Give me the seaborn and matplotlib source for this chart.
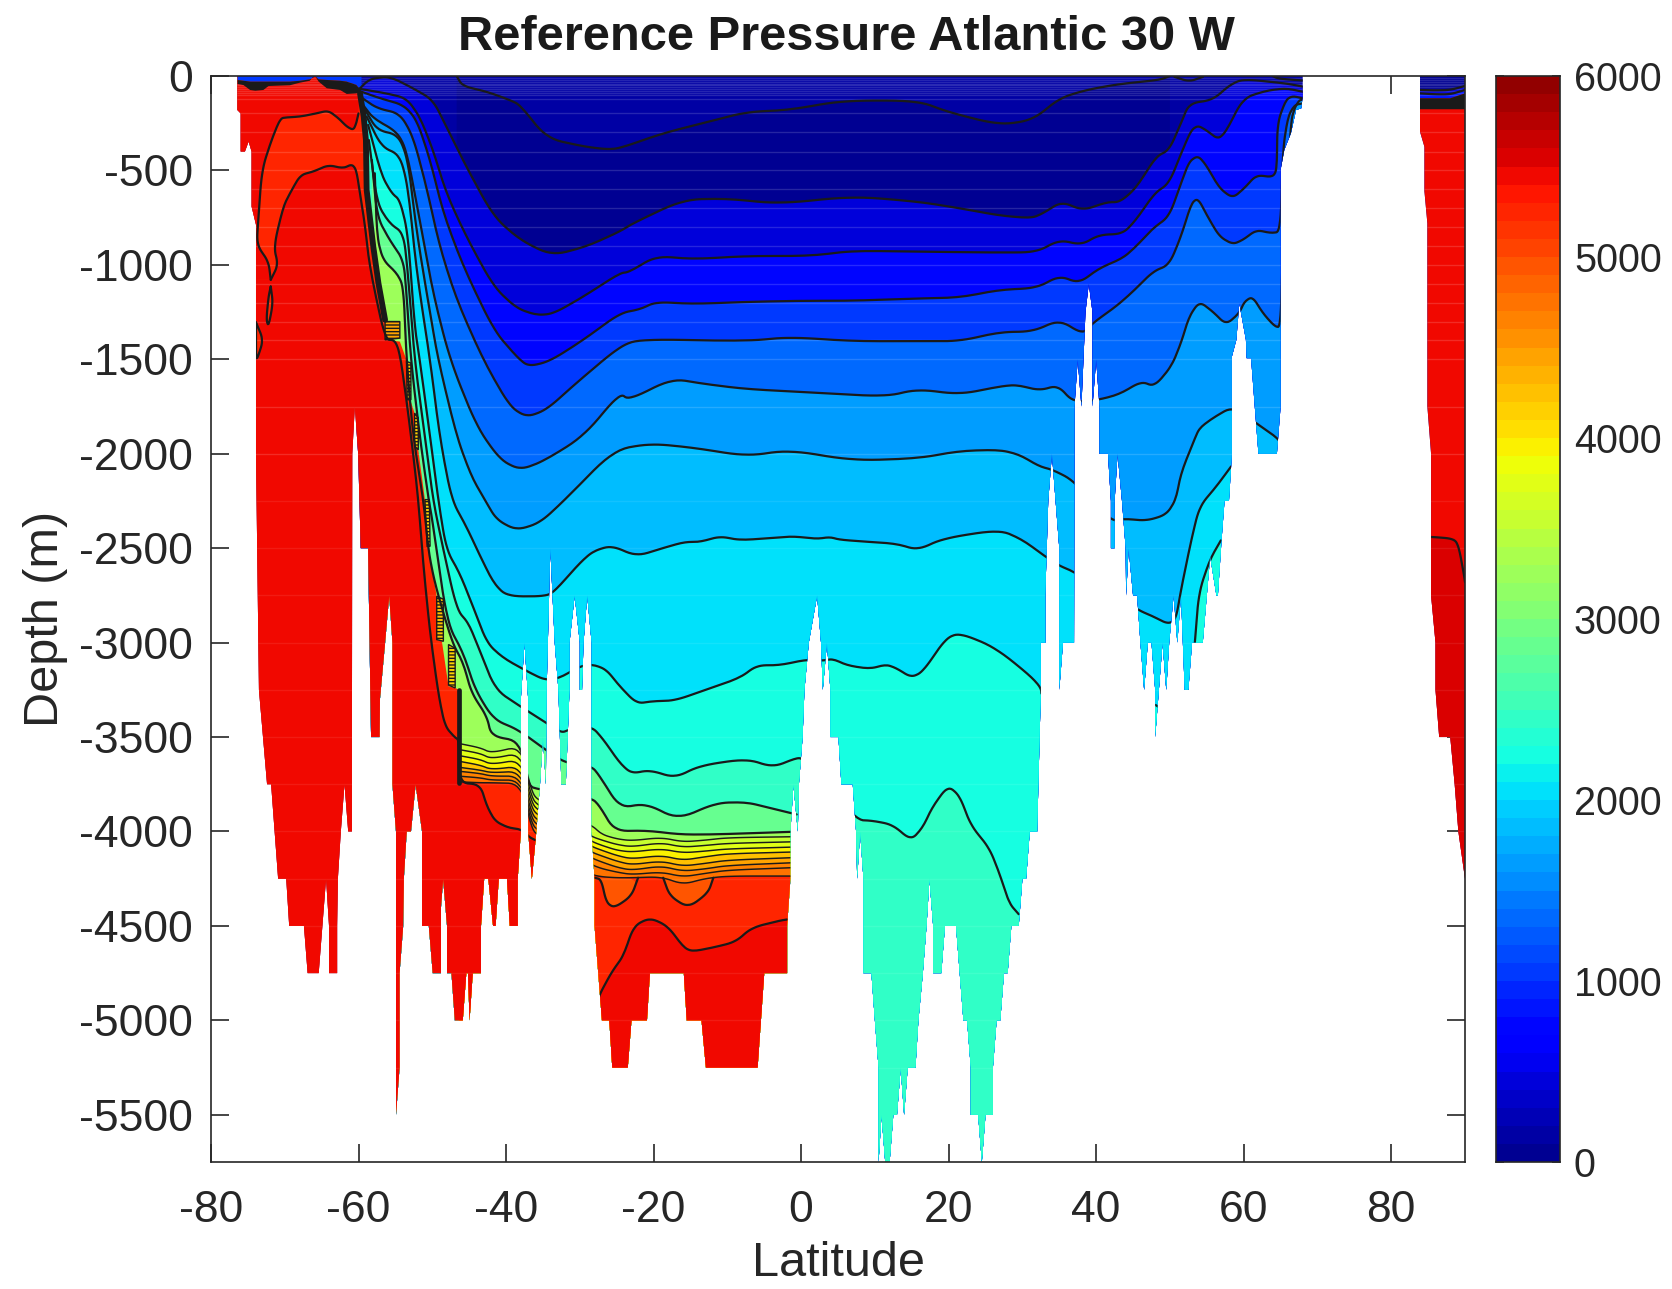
import numpy as np
import matplotlib
matplotlib.use("Agg")
import matplotlib.pyplot as plt
from matplotlib.colors import ListedColormap
from matplotlib.path import Path
from matplotlib.patches import PathPatch
import seaborn as sns

TITLE = "Reference Pressure Atlantic 30 W"
XLABEL = "Latitude"
YLABEL = "Depth (m)"
X_TICKS = [-80, -60, -40, -20, 0, 20, 40, 60, 80]
Y_TICKS = [0, -500, -1000, -1500, -2000, -2500, -3000, -3500, -4000, -4500, -5000, -5500]
CBAR_TICKS = [6000, 5000, 4000, 3000, 2000, 1000, 0]

# ocean outline (sea floor) : latitude, depth
FLOOR_LAT = [-76.43,-76.43,-75.98,-75.98,-75.4,-74.9,-74.5,-74.5,-73.9,-73.9,-73.5,-72.4,-71.85,-70.9,-69.8,-69.4,-67.4,-66.9,-65.4,-64.9,-64.4,-64,-64,-62.9,-62.9,-62.8,-62.4,-61.9,-61.4,-60.9,-60.9,-60.85,-60.5,-60.05,-59.7,-58.7,-58.6,-58.3,-57.15,-57.1,-56.4,-55.84,-55.4,-55.4,-54.92,-54.92,-54.44,-54.44,-53.95,-53.86,-53.47,-52.89,-52.26,-51.39,-51.39,-50.47,-49.94,-48.82,-48.82,-48.53,-48,-48,-47.4,-46.94,-45.87,-45.39,-45.15,-44.95,-44.52,-43.4,-43.4,-42.97,-42.4,-41.76,-41.42,-40.99,-39.87,-39.49,-38.42,-38.42,-38,-38,-37.5,-37,-37,-36.5,-35.9,-35.4,-35,-34.6,-34.5,-34,-33.4,-32.9,-32.5,-31.9,-31.4,-31.4,-30.7,-30,-30,-29.7,-29.5,-29,-28.4,-28.4,-28,-28,-27.5,-27,-26,-25.6,-23.5,-23,-20.9,-20.5,-15.9,-15.5,-13.5,-12.9,-5.9,-5,-1.9,-1.9,-1.45,-1.45,-1.04,-0.45,-0.3,0.2,0.45,1.04,2.17,2.7,2.94,3.5,3.97,3.97,5.06,5.46,7,7.45,7.6,8,8.45,8.45,9.53,10,10.5,10.5,10.9,11.4,12,12.5,13,13.5,13.96,14.45,15.5,15.9,16.5,17,17.4,17.9,17.9,19,19.5,21,21.5,22,22.5,23,23,24,24.5,25,26,26,26.5,27,27.5,28,28.5,29.5,30,30.5,31,32,32.5,32.5,33.1,33.1,33.5,34,34.5,35,35,35.5,37,37.06,37.5,38,38.55,39,39.5,39.5,40,40.45,40.45,41.6,42,42,42.5,42.5,42.9,43.5,44,44.06,44.4,45,45.55,46,46.5,47,47.5,48,48,48.5,49,49.5,49.9,50.5,51,51.5,52,52.5,53,54.45,55,55.45,56.3,56.5,57,57.4,58,58.4,58.4,59,59.4,60.3,60.4,61,61.5,62,64.5,65,65,65.5,66.4,67.1,67.8,68,68]
FLOOR_DEPTH = [0,180,198,400,400,347,400,691,788,2000,3250,3750,3750,4250,4250,4500,4500,4750,4750,4500,4250,4500,4750,4750,4500,4250,4000,3750,4000,4000,3750,2000,1750,2000,2500,2500,2750,3500,3500,3300,3000,2750,3000,3750,4000,5500,5250,4750,4500,4250,4000,4000,3750,4000,4500,4500,4750,4750,4400,4250,4500,4750,4750,5000,5000,4750,4750,5000,4750,4750,4500,4250,4250,4500,4500,4250,4250,4500,4500,4250,4000,3300,3000,3300,4000,4250,4000,3750,3500,3750,3250,2500,3000,3250,3750,3750,3250,3000,2750,3000,3250,3250,3000,2750,3000,4000,4250,4500,4750,5000,5000,5250,5250,5000,5000,4750,4750,5000,5000,5250,5250,4750,4750,4500,4250,4000,3750,4000,3750,3500,3250,3000,2750,3000,3250,3000,3250,3500,3500,3750,3750,4000,4250,4000,4250,4750,4750,5000,5250,5750,5500,5750,5750,5500,5500,5250,5500,5250,5250,5000,4750,4500,4250,4500,4750,4750,4500,4500,4750,5000,5000,5250,5500,5500,5750,5500,5500,5250,5000,5000,4750,4750,4500,4500,4250,4250,4000,4000,3250,3000,3000,2750,2250,2000,2250,2500,3250,3000,3000,1750,1500,1750,1250,1100,1250,1750,1500,1750,2000,2000,2250,2500,2500,2250,2000,2250,2500,2750,2500,2750,2750,3000,3250,3000,3000,3250,3500,3250,3000,3250,3000,2750,3000,2750,3250,3250,3000,3000,2750,2543,2750,2750,2455,2250,2250,2000,1485,1397,1203,1397,1494,1494,1750,2000,2000,1750,497,392,303,180,171,110,0]
ARCTIC_LAT = [83.9,83.9,84.5,84.5,84.9,84.9,85.4,85.4,86,86,86.5,88,88.6,89.1,90,90]
ARCTIC_DEPTH = [0,295,375,610,780,1750,2000,2750,3000,3250,3500,3500,3750,4000,4250,0]

# isolines : latitude, depth
LA_LAT = [-46.7,-45.9,-42.6,-39.5,-38.1,-34.5,-29.5,-26.4,-24.6,-18.9,-13.2,-7.4,-1.6,5.6,15.8,20,26.9,31.4,35,38.6,43.2,48.6,50]
LA_DEPTH = [0,53,83,127,153,330,373,388,383,305,248,190,180,130,130,192,259,233,118,74,42,21,0]
L1_LAT = [-59.8,-58.9,-58,-55.7,-52.6,-49.9,-48.1,-45.4,-41.7,-38.1,-33.8,-29.1,-24.6,-23,-16,-10,-3,7,15.8,21.5,26.9,31.2,32.8,35.3,38.2,41.4,43.2,45.4,48.1,49.9,51.5,52.6,55.8,58.1,59.9,65.7,68]
L1_DEPTH = [65,30,12,4,65,127,268,480,744,868,951,903,824,784,654,649,677,637,665,700,739,753,727,665,712,668,668,594,427,392,250,145,127,48,16,39,56]
L2_LAT = [-60.3,-56.2,-53.5,-51.7,-49.9,-48.1,-45.4,-41.7,-38.6,-35.9,-33.6,-29.5,-24.6,-23.3,-19.7,-14.6,-7.4,1.3,7,15.8,26.9,31.9,35,38,40.4,43.6,45.4,47.9,49.9,51.7,52.9,53.8,54.9,56.5,57.6,59.9,63,65.7,68]
L2_DEPTH = [65,92,118,215,392,621,850,1115,1229,1266,1259,1168,1044,1038,953,970,953,953,925,930,935,933,868,894,841,836,762,621,568,392,286,263,286,335,295,118,78,65,83]
L3_LAT = [-60.3,-57.1,-53.9,-52.1,-50.3,-48.5,-45.8,-41.7,-38.6,-37,-34.1,-29.5,-24.6,-21.8,-19.7,-14.6,-7.4,0,7,15.8,21.5,26.9,31.9,35,37.7,40.4,43.6,45.4,47.7,49.9,51.5,52.6,53.8,54.9,56.7,58.5,60.1,61.7,63.9,64.5,64.55,65.7,66.6,68]
L3_DEPTH = [74,118,153,233,444,727,1009,1344,1485,1538,1511,1397,1256,1235,1196,1207,1196,1190,1190,1178,1173,1132,1123,1058,1097,1018,965,903,806,744,568,453,422,471,594,647,594,524,536,497,250,127,106,118]
L4_LAT = [-59.8,-57.5,-54.4,-52.6,-50.8,-49,-46.7,-43.1,-39.5,-37.2,-34.5,-30.5,-24.6,-21.8,-7.4,-1.6,7,15.8,21.5,26.9,31.4,35,38.2,39.5,42.7,45,47.7,49.9,51.5,52.9,53.8,55.1,56.7,58.5,59.9,61.7,63.7,65,65.3,66,66.9,68]
L4_DEPTH = [109,171,198,321,586,903,1185,1503,1750,1806,1767,1626,1432,1393,1404,1382,1404,1404,1404,1356,1353,1291,1367,1309,1220,1141,1035,1000,850,674,647,744,850,891,868,815,832,824,392,215,153,145]
L5_LAT = [-59.4,-58,-54.8,-53.5,-51.7,-49.9,-47.6,-44,-40.8,-38.1,-35,-29.5,-24.6,-23.3,-17.5,-13.2,-7.4,1.3,11.4,15.8,21.5,26.9,29.2,32.3,34.8,36.9,40.4,43.2,46.1,47.9,50.2,51.5,52.6,54,55.8,57.6,59.4,60.1,61.2,62.6,64.2,65,65.3,66.4,66.9,67.5,68]
L5_DEPTH = [153,224,295,392,762,1150,1503,1855,2032,2085,2041,1908,1679,1715,1602,1630,1658,1675,1698,1658,1686,1644,1635,1665,1638,1727,1714,1684,1617,1644,1538,1414,1273,1194,1247,1317,1256,1194,1168,1256,1326,1330,900,240,170,130,125]
L6_LAT = [-59.1,-57.5,-54.6,-53.3,-52.1,-50.3,-49.2,-46.7,-44.7,-42.9,-41.3,-38.6,-35.4,-32,-25.4,-20.4,-14.6,-7.4,-1.6,7,15.8,21.5,26.9,29.6,32.3,34.1,36.9,42,43.8,46.8,49.5,50.8,51.5,53.3,54,55.8,58.5,61.7,64.6,65]
L6_DEPTH = [180,286,312,444,832,1256,1503,1908,2120,2243,2349,2405,2366,2243,1980,1946,1968,2013,1980,2036,2025,1985,1979,2005,2067,2085,2141,2358,2344,2355,2323,2244,2102,1926,1864,1811,1750,1838,1917,1950]
L7_LAT = [-58.9,-56.9,-54.4,-53.3,-52.1,-50.3,-49,-47.4,-45.4,-43.5,-41.7,-39.9,-34.5,-33.2,-30,-28.2,-25.7,-22.3,-18.7,-15.8,-13.7,-11,-8.3,-4,-1.1,2.1,3.9,5.2,8.5,12.9,15.8,19.3,26.9,30,33.2,35,36.9,45.6,47.7,49.7,50.8,51.5,52.9,54,56.3,58.3]
L7_DEPTH = [215,374,418,586,1044,1503,1908,2243,2384,2543,2684,2755,2755,2719,2578,2516,2486,2543,2499,2467,2467,2437,2458,2446,2437,2451,2441,2455,2465,2476,2510,2448,2402,2455,2547,2593,2623,2826,2861,2901,2879,2720,2455,2279,2173,2067]
L8_LAT = [-58.7,-56.9,-55.5,-54.4,-53.3,-52.4,-51.7,-50.3,-49.2,-48.1,-46.3,-44.5,-42.6,-40.4,-37.2,-34.7,-32.7,-30,-28.2,-26.4,-24.6,-22.3,-20.1,-17.1,-12.8,-8.3,-6,-2.9,0.7,2.9,4.3,6.3,9.3,11.5,12.9,14.9,16.5,19.6,21.5,26.4,32.5,32.6,47.9,48.1,50.5,52.7,53.4,53.9,55.4,56.9]
L8_DEPTH = [259,524,621,656,832,1326,1503,1908,2243,2508,2631,2807,3002,3081,3151,3199,3187,3125,3116,3143,3231,3323,3310,3307,3248,3187,3120,3120,3090,3096,3086,3121,3139,3116,3135,3184,3155,2978,2949,3027,3223,3300,3330,3330,3400,3300,2993,2737,2561,2459]
L9_LAT = [-58.6,-57.5,-55.8,-53.9,-53.3,-52.4,-51,-49.9,-48.7,-46.7,-45.1,-43.8,-41.5,-38.1,-34.7,-32.5,-31.4,-28.4,-26.8,-24.6,-23,-20.5,-17.1,-13.7,-7.4,-3.8,-0.6,0.26,7.45,9.7,12.4,14.9,16.5,17.8,19.9,21.5,23,25.5,26.9,28.2,29.5]
L9_DEPTH = [339,674,780,832,1044,1503,1908,2243,2472,2825,2896,3019,3248,3337,3421,3478,3460,3443,3513,3637,3693,3675,3716,3651,3615,3660,3610,3615,3939,3943,3964,4047,3978,3870,3758,3811,3968,4086,4223,4380,4438]
L10_LAT = [-58.2,-57.5,-55.8,-53.9,-53.5,-52.9,-51.7,-50.5,-50,-48,-45.8,-44.2,-41.7,-38.4,-34.7,-32,-28.4,-27.3,-24.6,-21,-16.7,-11.5,-7.4,-4.3,-0.6]
L10_DEPTH = [444,744,868,974,1150,1503,1908,2243,2349,2896,3054,3248,3407,3460,3566,3637,3654,3707,3875,3852,3936,3848,3845,3875,3910]
L11_LAT = [-57.8,-57.5,-56.7,-54.8,-53.9,-53.5,-52.6,-51.2,-50.3,-47.4,-45.8,-44.7,-42.6,-42,-38.1,-37,-35.4,-28.4,-27.3,-25.3,-20.9,-16.4,-11.9,-1.45]
L11_DEPTH = [515,850,974,1044,1115,1503,1908,2243,2596,2993,3107,3266,3390,3495,3522,3760,3778,3822,3866,3998,3995,4016,4016,4002]

STACK_LAT = [-46.4,-43.5,-42,-38,-36.5,-35.5,-28.5,-27,-25,-23,-19,-16,-13,-10,-1.45]
Y1_DEPTH = [3534,3557,3584,3548,3795,3839,3963,4016,4039,4049,4032,4055,4046,4033,4028]
Y2_DEPTH = [3566,3587,3615,3584,3825,3866,4025,4046,4069,4081,4060,4083,4074,4063,4055]
Y3_DEPTH = [3598,3619,3645,3619,3852,3892,4051,4074,4099,4109,4092,4113,4104,4092,4083]
Y4_DEPTH = [3628,3649,3672,3654,3880,3919,4078,4100,4127,4145,4127,4152,4134,4118,4109]
Y5_DEPTH = [3660,3675,3689,3681,3910,3945,4108,4130,4157,4176,4157,4183,4169,4152,4139]
Y6_DEPTH = [3681,3693,3707,3707,3936,3972,4139,4162,4189,4205,4183,4210,4198,4180,4166]
Y7_DEPTH = [3707,3716,3728,3728,3963,3998,4175,4197,4215,4228,4215,4240,4222,4205,4192]
Y8_DEPTH = [3737,3742,3742,3746,3989,4025,4228,4240,4245,4245,4240,4280,4249,4236,4236]

# the red water on the southern side
D1_LAT = [-60,-60.3,-60.7,-61.6,-62.7,-64.1,-65.7,-67.9,-69.7,-70.6,-71.8,-73.1,-73.6,-73.8,-72.2,-71.9]
D1_DEPTH = [198,250,286,268,224,183,198,215,219,224,339,497,762,894,982,1079]
D2_LAT = [-71.9,-70.9,-71.5,-70.2,-69.3,-67.9,-66.1,-64.1,-62.1,-60.9,-60.3,-59.8,-59.1,-58.5,-56.4,-55.1,-54.4,-53.5,-52.6,-51.9,-51.2,-50.3,-49.2,-48.3,-46.9,-46.4,-46.4,-43.5,-42.6,-41.5,-39.7,-37.9,-36.5,-34.5,-28.5,-27.6,-27.2,-25.6,-24.1,-22.7,-20.5,-18.1,-15.9,-14.7,-12,-8.9,-6.7,-2.9,-1.9]
D2_DEPTH = [1079,1000,903,691,621,524,506,471,489,467,497,621,797,1009,1397,1397,1467,1714,1997,2243,2596,2949,3266,3442,3504,3513,3742,3751,3866,3945,3980,3989,4042,4060,4800,4900,4853,4739,4660,4500,4457,4500,4615,4635,4615,4585,4509,4472,4466]
FRONT_LAT = [-59.8,-59.3,-59,-58.9,-58,-57.3,-56.4,-56.4,-54.4,-53.5,-53,-52.4,-51.9,-51,-50.55,-49.4,-49.4,-48.7,-47.8,-46.9,-46.4,-46.4]
FRONT_DEPTH = [92,215,339,603,903,1097,1291,1397,1406,1503,1714,1785,1979,2243,2490,2755,2984,2993,3231,3240,3250,3742]
LENS1_LAT = [-28,-27.1,-26.4,-25.3,-23,-22.1,-28]
LENS1_DEPTH = [4245,4254,4377,4404,4342,4245,4245]
LENS2_LAT = [-18.7,-17.8,-15.3,-12.6,-11.9,-13,-16,-18.7]
LENS2_DEPTH = [4245,4342,4404,4325,4245,4249,4280,4245]
POCKET1_LAT = [-71.9,-71.6,-72.2,-72.5,-72.2,-71.9]
POCKET1_DEPTH = [1115,1203,1326,1291,1168,1115]
POCKET2_LAT = [-73.9,-72.9,-73.7,-73.9,-73.9]
POCKET2_DEPTH = [1305,1397,1494,1494,1305]

# near-surface dark layer, southern side
SKIN_LAT = [-76.43,-75.6,-74.7,-74,-72.9,-72.2,-69.3,-67.9,-66.6,-66.1,-65.9,-65.4,-64.3,-62.5,-61.6,-60.3,-59.6]
SKIN_TOP = [21,25,30,30,30,30,30,25,18,7,0,18,21,25,30,47,83]
SKIN_BOTTOM = [42,48,74,78,74,53,49,35,25,0,0,30,65,74,95,92,83]

# northern end column
NORTH_LAT = [83.9,86,88,90]
NORTH_A = [74,76,74,53]
NORTH_B = [92,97,97,74]
NORTH_C = [118,118,118,92]
NORTH_D = [176,176,176,176]
NORTH_DEEP_LAT = [83.9,85.4,88.6,89.2,89.9,90]
NORTH_DEEP_DEPTH = [2440,2440,2450,2500,2650,2680]

# small surface lenses
TOP1_LAT = [50.6,52.6,54.5]
TOP1_DEPTH = [4,30,4]
TOP2_LAT = [63.9,64.7,68]
TOP2_DEPTH = [0,14,24]

# colour band of each region, counted in 100-dbar colour-bar steps
N_COLORS = 60
BAND_BASE = 1
BAND_ORDER = [0,4,7,10,13,16,18,20,22,24,28,32]
STACK_ORDER = [35,37,39,42,44,46,47,52]
BAND_FF = 52
BAND_EE = 54
BAND_CC = 55
BAND_LENS = 49
BAND_SKIN = 10

# model levels, drawn as faint seams
LEVELS = [10,20,30,40,50,60,70,80,90,100,123,198,298,400,497,600,700,800,900,1000,1100,1200,1300,1400,1500,1750,2000]
DEEP_LEVELS = [2250,2500,2750,3000,3250,3500,3750,4000,4250,4500,4750,5000,5250]

sns.set_theme(style="ticks")
plt.rcParams["font.family"] = ["Liberation Sans", "DejaVu Sans"]
plt.rcParams["axes.unicode_minus"] = False
plt.rcParams["hatch.linewidth"] = 1.0
INK = "#262626"
palette = sns.mpl_palette("jet", N_COLORS)
DEEP = 6000
LINE_W = 1.6

fig = plt.figure(figsize=(16.72, 12.89), dpi=100)
W, H = 1672, 1289
ax = fig.add_axes([211/W, 1-1162/H, (1465-211)/W, (1162-76)/H])
cax = fig.add_axes([1496/W, 1-1162/H, (1560-1496)/W, (1162-76)/H])

def rounded(lat, dep, rounds=3, cut=0.22):
    """Round the corners of a traced outline, the way the contour drawing does."""
    p = np.column_stack([lat, dep]).astype(float)
    for _ in range(rounds):
        a, b = p[:-1], p[1:]
        q = np.empty((2*len(a), 2))
        q[0::2] = a + cut*(b - a)
        q[1::2] = b - cut*(b - a)
        p = np.vstack([p[:1], q, p[-1:]])
    return list(p[:, 0]), list(p[:, 1])

z = [1.0]
def paint(lat, depth, band, zorder=None, **kw):
    z[0] += 0.001
    return ax.fill(lat, -np.asarray(depth, float), color=kw.pop("color", palette[band]), lw=0,
                   zorder=zorder if zorder else z[0], **kw)

def below(lat, depth, band):
    lat, depth = rounded(lat, depth)
    paint(lat + [lat[-1], lat[0]], depth + [DEEP, DEEP], band)

paint([-80, 90, 90, -80], [0, 0, DEEP, DEEP], BAND_BASE)

LINES = [(LA_LAT, LA_DEPTH), (L1_LAT, L1_DEPTH), (L2_LAT, L2_DEPTH), (L3_LAT, L3_DEPTH),
         (L4_LAT, L4_DEPTH), (L5_LAT, L5_DEPTH), (L6_LAT, L6_DEPTH), (L7_LAT, L7_DEPTH),
         (L8_LAT, L8_DEPTH), (L9_LAT, L9_DEPTH), (L10_LAT, L10_DEPTH), (L11_LAT, L11_DEPTH)]
STACK = [Y1_DEPTH, Y2_DEPTH, Y3_DEPTH, Y4_DEPTH, Y5_DEPTH, Y6_DEPTH, Y7_DEPTH, Y8_DEPTH]

for (lat, dep), band in zip(LINES, BAND_ORDER):
    below(lat, dep, band)
for dep, band in zip(STACK, STACK_ORDER):
    below(STACK_LAT, dep, band)
ll, ld = rounded(LENS1_LAT, LENS1_DEPTH, rounds=2)
paint(ll, ld, BAND_LENS)
ll, ld = rounded(LENS2_LAT, LENS2_DEPTH, rounds=2)
paint(ll, ld, BAND_LENS)

# red water left of the front
paint(FRONT_LAT + [-46.4, -80, -80, -59.8], FRONT_DEPTH + [DEEP, DEEP, 0, 0], BAND_FF)
d1a, d1b = rounded(D1_LAT, D1_DEPTH)
paint(d1a + [-80, -80, -59.8], d1b + [D1_DEPTH[-1], 0, 0], BAND_EE)
d2a, d2b = rounded(D2_LAT, D2_DEPTH)
paint(d2a + [D2_LAT[-1], -80, -80], d2b + [DEEP, DEEP, D2_DEPTH[0]], BAND_EE)
paint(POCKET1_LAT, POCKET1_DEPTH, BAND_FF)
paint(POCKET2_LAT, POCKET2_DEPTH, BAND_FF)

# hatched pockets on the front
POCKETS = [([-56.4, -54.4, -54.4, -56.4], [1300, 1300, 1388, 1397], 44),
           ([-53.5, -52.9, -52.9, -53.4], [1511, 1520, 1714, 1714], 41),
           ([-52.4, -51.9, -51.9, -52.4], [1785, 1810, 1979, 1960], 41),
           ([-51, -50.4, -50.3, -50.7], [2243, 2243, 2490, 2490], 41),
           ([-49.4, -48.5, -48.5, -49.4], [2755, 2770, 2993, 2984], 42),
           ([-47.8, -46.9, -46.9, -47.8], [3010, 3030, 3240, 3225], 41)]
for lat, dep, band in POCKETS:
    ax.fill(lat, -np.asarray(dep, float), facecolor=palette[band], edgecolor="k", hatch="-----", lw=1.0, zorder=1.9)

# skin layers
sl = list(SKIN_LAT)
paint(sl + [sl[-1], sl[0]], SKIN_TOP + [0, 0], BAND_SKIN, zorder=1.6)
paint(sl + sl[::-1], SKIN_TOP + SKIN_BOTTOM[::-1], 0, color="k", zorder=1.7)

# northern column
paint([83, 90, 90, 83], [0, 0, DEEP, DEEP], BAND_EE)
paint(NORTH_DEEP_LAT + [90, 83, 83], NORTH_DEEP_DEPTH + [DEEP, DEEP, NORTH_DEEP_DEPTH[0]], BAND_CC)
nl = list(NORTH_LAT)
paint(nl + nl[::-1], [0, 0, 0, 0] + NORTH_A[::-1], 0)
paint(nl + nl[::-1], NORTH_A + NORTH_B[::-1], 4)
paint(nl + nl[::-1], NORTH_B + NORTH_C[::-1], 8)
paint(nl + nl[::-1], NORTH_C + NORTH_D[::-1], 0, color="k", zorder=1.7)

ax.hlines(-np.array(LEVELS), -80, 90, colors="white", alpha=0.15, lw=1.0, zorder=1.5)
ax.hlines(-np.array(DEEP_LEVELS), -80, 90, colors="white", alpha=0.08, lw=1.0, zorder=1.5)

def iso(lat, dep, lw=LINE_W, smooth=True):
    if smooth:
        lat, dep = rounded(lat, dep)
    sns.lineplot(x=list(lat), y=list(-np.asarray(dep, float)), sort=False, estimator=None, errorbar=None,
                 color="k", lw=lw, ax=ax, legend=False, zorder=2)

for lat, dep in LINES:
    iso(lat, dep)
for dep in STACK:
    iso(STACK_LAT, dep, lw=1.05)
for lat, dep in [(LENS1_LAT[:6], LENS1_DEPTH[:6]), (LENS2_LAT[:5], LENS2_DEPTH[:5]),
                 (D1_LAT, D1_DEPTH), (D2_LAT, D2_DEPTH), (POCKET1_LAT, POCKET1_DEPTH), (POCKET2_LAT, POCKET2_DEPTH),
                 (TOP1_LAT, TOP1_DEPTH), (TOP2_LAT, TOP2_DEPTH),
                 (NORTH_LAT, NORTH_A), (NORTH_LAT, NORTH_B), (NORTH_DEEP_LAT, NORTH_DEEP_DEPTH)]:
    iso(lat, dep)
iso(FRONT_LAT[:7], FRONT_DEPTH[:7], lw=4.2, smooth=False)
iso(FRONT_LAT[-2:], FRONT_DEPTH[-2:], lw=3.4, smooth=False)

# clip everything to the ocean
verts = list(zip(FLOOR_LAT, -np.array(FLOOR_DEPTH, float))) + [(FLOOR_LAT[0], 0.0)]
verts2 = list(zip(ARCTIC_LAT, -np.array(ARCTIC_DEPTH, float))) + [(ARCTIC_LAT[0], 0.0)]
codes = [Path.MOVETO] + [Path.LINETO]*(len(verts)-2) + [Path.CLOSEPOLY]
codes2 = [Path.MOVETO] + [Path.LINETO]*(len(verts2)-2) + [Path.CLOSEPOLY]
ocean = PathPatch(Path(verts + verts2, codes + codes2), transform=ax.transData, fc="none", ec="none")
ax.add_patch(ocean)
for art in list(ax.patches) + list(ax.lines) + list(ax.collections):
    if art is not ocean:
        art.set_clip_path(ocean)

ax.set_xlim(-80, 90)
ax.set_ylim(-5750, 0)
ax.set_xticks(X_TICKS)
ax.set_yticks(Y_TICKS)
ax.set_xticklabels([str(v) for v in X_TICKS])
ax.set_yticklabels([str(v) for v in Y_TICKS])
ax.tick_params(direction="in", length=13, width=1.2, color=INK, labelsize=32, labelcolor=INK,
               top=True, right=True)
ax.tick_params(axis="y", pad=13)
ax.tick_params(axis="x", pad=20)
for s in ax.spines.values():
    s.set_visible(True); s.set_linewidth(1.2); s.set_color(INK)
ax.set_xlabel(XLABEL, fontsize=35, color=INK, labelpad=7)
ax.set_ylabel(YLABEL, fontsize=35, color=INK, labelpad=8)
ax.set_title(TITLE, fontsize=35.2, fontweight="bold", color="k", pad=19, x=0.5068)

# colour bar
cvals = np.arange(N_COLORS)[::-1].reshape(-1, 1)
sns.heatmap(cvals, cmap=ListedColormap(palette), vmin=-0.5, vmax=N_COLORS-0.5, cbar=False, ax=cax,
            xticklabels=False, yticklabels=False)
cax.set_yticks(np.arange(0, N_COLORS+1, 10))
cax.set_yticklabels([str(v) for v in CBAR_TICKS])
cax.yaxis.tick_right()
cax.tick_params(axis="y", direction="in", length=6, width=1.2, color=INK, labelsize=28.5, labelcolor=INK,
                left=True, right=True, pad=10, labelrotation=0)
for s in cax.spines.values():
    s.set_visible(True); s.set_linewidth(1.2); s.set_color(INK)

fig.savefig("out.png", dpi=100, facecolor="white")
